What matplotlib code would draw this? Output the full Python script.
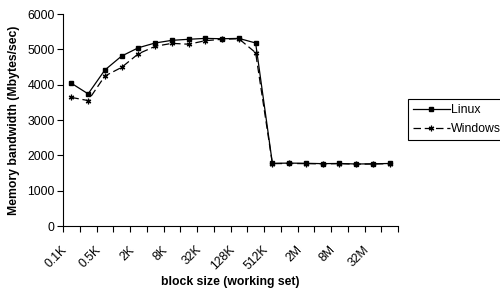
import matplotlib
matplotlib.use("Agg")
import matplotlib.pyplot as plt
import matplotlib.transforms as mtransforms
import numpy as np

plt.rcParams["font.family"] = ["Liberation Sans", "DejaVu Sans"]

# block sizes (working set), one category per power of two
categories = ["0.1K", "0.25K", "0.5K", "1K", "2K", "4K", "8K", "16K", "32K",
              "64K", "128K", "256K", "512K", "1M", "2M", "4M", "8M", "16M",
              "32M", "64M"]
linux = [4040, 3740, 4415, 4810, 5045, 5180, 5255, 5285, 5310, 5300,
         5310, 5180, 1775, 1780, 1775, 1765, 1770, 1755, 1760, 1770]
windows = [3640, 3550, 4245, 4490, 4875, 5085, 5170, 5145, 5245, 5285,
           5300, 4905, 1765, 1770, 1765, 1760, 1765, 1750, 1755, 1765]

FS = 8.8


def main():
    fig = plt.figure(figsize=(5, 2.92), dpi=100)
    ax = fig.add_axes([0.126, 0.226, 0.67, 0.726])
    x = np.arange(len(categories))

    ax.plot(x, linux, color="black", lw=0.9, marker="s", ms=2.6,
            label="Linux")
    ax.plot(x, windows, color="black", lw=0.9, ls=(0, (6, 3)),
            marker=(6, 2, 0), ms=4, mew=0.9, label="Windows")

    ax.set_xlim(-0.5, len(categories) - 0.5)
    ax.set_ylim(0, 6000)
    ax.set_yticks(range(0, 6001, 1000))

    # ticks on category edges, labels on every other category
    ax.set_xticks(np.arange(-0.5, len(categories), 1.0))
    ax.set_xticklabels([])
    ax.set_xticks(x[::2], minor=True)
    ax.set_xticklabels(categories[::2], minor=True, rotation=45,
                       ha="right", va="top", rotation_mode="anchor")
    ax.tick_params(axis="x", which="minor", length=0, pad=7, labelsize=FS)
    ax.tick_params(axis="x", which="major", length=4, width=0.8)
    ax.tick_params(axis="y", length=4, width=0.8, labelsize=FS, pad=2)
    # nudge rotated labels down-left like the original
    shift = mtransforms.ScaledTranslation(-0.10, -0.08, fig.dpi_scale_trans)
    for lab in ax.get_xticklabels(minor=True):
        lab.set_transform(lab.get_transform() + shift)

    for side in ["top", "right"]:
        ax.spines[side].set_visible(False)
    ax.spines["left"].set_linewidth(0.8)
    ax.spines["bottom"].set_linewidth(0.8)

    ax.set_ylabel("Memory bandwidth (Mbytes/sec)", fontsize=FS,
                  fontweight="bold", labelpad=5)
    ax.set_xlabel("block size (working set)", fontsize=FS,
                  fontweight="bold", labelpad=3)

    leg = fig.legend(loc="upper left", bbox_to_anchor=(0.816, 0.66),
                     fontsize=FS, frameon=True, fancybox=False,
                     framealpha=1, edgecolor="black", handlelength=3.0,
                     handletextpad=0.1, borderpad=0.4, labelspacing=0.55,
                     borderaxespad=0)
    leg.get_frame().set_linewidth(0.8)

    fig.savefig("out.png", dpi=100)


if __name__ == "__main__":
    main()
